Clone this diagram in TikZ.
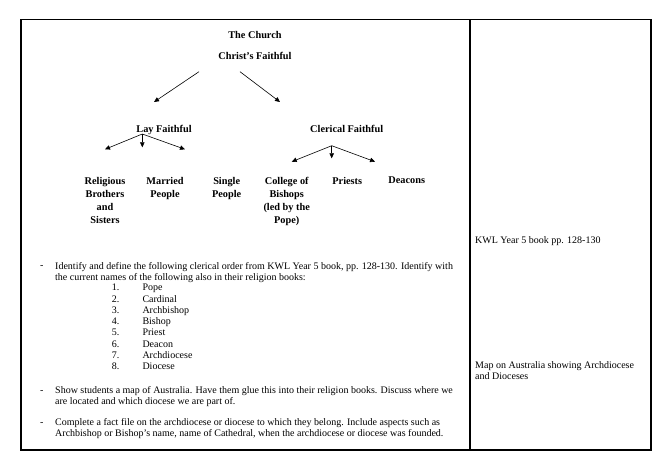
\documentclass[tikz,border=0pt]{standalone}
\usepackage{fontspec}
\setmainfont{Liberation Serif}
\usetikzlibrary{arrows.meta,positioning}

\begin{document}
\begin{tikzpicture}[x=1pt, y=-1pt, frame/.style={line width=1.1pt}, heading/.style={font=\bfseries\fontsize{10.3}{13}\selectfont, align=center, inner sep=0pt}, leaf/.style={heading, anchor=north}, link/.style={-{Triangle[length=5pt,width=4.5pt]}, semithick}, para/.style={font=\fontsize{10}{11}\selectfont, align=left, inner sep=0pt, anchor=north west}, dashmark/.style={font=\fontsize{10}{11}\selectfont, inner sep=0pt, anchor=base}]
\useasboundingbox (0,0) rectangle (668,459);
% table lines
\draw[frame] (21,19.5) rectangle (651,450);
\draw[frame] (470,19.5) -- (470,450);
% chart
\node[heading, anchor=base] (church) at (255,38.5) {The Church};
\node[heading, anchor=base] (christ) at (255,59.2) {Christ's Faithful};
\node[heading, anchor=base] (lay) at (164,132.2) {Lay Faithful};
\node[heading, anchor=base] (clerical) at (346.7,132.2) {Clerical Faithful};
\node[leaf] (religious) at (105,177) {Religious\\Brothers\\and\\Sisters};
\node[leaf] (married) at (165,177) {Married\\People};
\node[leaf] (single) at (226.7,177) {Single\\People};
\node[leaf] (college) at (286.7,177) {College of\\Bishops\\(led by the\\Pope)};
\node[leaf] (priests) at (347.3,177) {Priests};
\node[leaf] (deacons) at (406.7,177) {Deacons};
\coordinate (christ-l) at (199,71.7); \coordinate (christ-r) at (240,71.7);
\coordinate (lay-in) at (154,102); \coordinate (clerical-in) at (280,102);
\coordinate (lay-fork) at (142.3,134); \coordinate (clerical-fork) at (331.7,145.7);
\draw[link] (christ-l) -- (lay-in);
\draw[link] (christ-r) -- (clerical-in);
\draw[link] (lay-fork) -- (105,149.3);
\draw[link] (lay-fork) -- (142.3,147.3);
\draw[link] (lay-fork) -- (185,149.3);
\draw[link] (clerical-fork) -- (291.7,161.7);
\draw[link] (clerical-fork) -- (331.7,158.3);
\draw[link] (clerical-fork) -- (375,161.7);
% tasks
\node[dashmark] (dash1) at (41.7,268.7) {-};
\node[para] (task1) at (55,261.8) {Identify and define the following clerical order from KWL Year 5 book, pp. 128-130. Identify with\\the current names of the following also in their religion books:};
\foreach \n/\w in {1/Pope,2/Cardinal,3/Archbishop,4/Bishop,5/Priest,6/Deacon,7/Archdiocese,8/Diocese}{
  \node[dashmark, anchor=base west] (num\n) at (111.7,{290.7+(\n-1)*11.3}) {\n.};
  \node[dashmark, anchor=base west] (item\n) at (142.3,{290.7+(\n-1)*11.3}) {\w};
}
\node[dashmark] (dash2) at (41.7,393) {-};
\node[para] (task2) at (55,386.1) {Show students a map of Australia. Have them glue this into their religion books. Discuss where we\\are located and which diocese we are part of.};
\node[dashmark] (dash3) at (41.7,425.3) {-};
\node[para] (task3) at (55,418.4) {Complete a fact file on the archdiocese or diocese to which they belong. Include aspects such as\\Archbishop or Bishop's name, name of Cathedral, when the archdiocese or diocese was founded.};
% resources
\node[para] (kwl) at (475,236.8) {KWL Year 5 book pp. 128-130};
\node[para] (map) at (475,361.1) {Map on Australia showing Archdiocese\\and Dioceses};
\end{tikzpicture}
\end{document}
